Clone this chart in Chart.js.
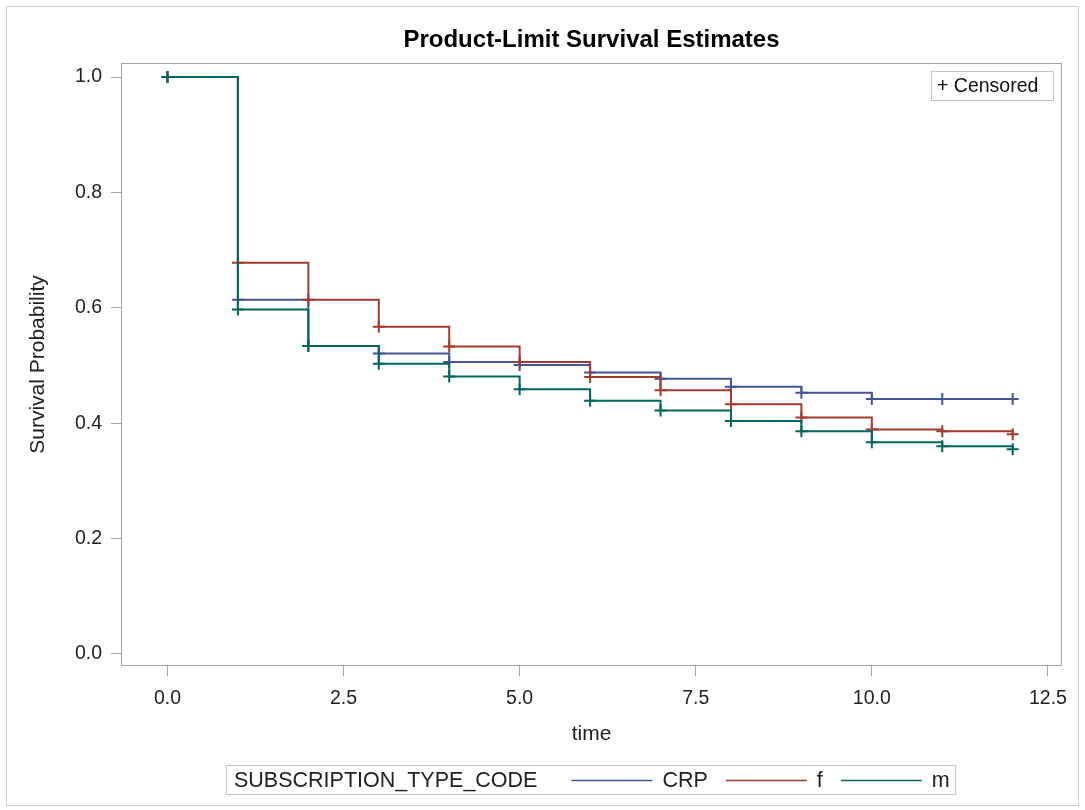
<!DOCTYPE html>
<html>
<head>
<meta charset="utf-8">
<script src="https://cdn.jsdelivr.net/npm/chart.js@4.4.1/dist/chart.umd.min.js"></script>
<style>
  html, body { margin: 0; padding: 0; background: #fff; }
  canvas { display: block; }
</style>
</head>
<body>
<canvas id="kmChart" width="1085" height="810"></canvas>
<script>
const times = [0, 1, 2, 3, 4, 5, 6, 7, 8, 9, 10, 11, 12];
const crp = [1.0, 0.614, 0.534, 0.521, 0.506, 0.501, 0.488, 0.477, 0.463, 0.453, 0.442, 0.442, 0.442];
const fem = [1.0, 0.678, 0.614, 0.567, 0.533, 0.506, 0.480, 0.457, 0.433, 0.410, 0.389, 0.386, 0.381];
const male = [1.0, 0.597, 0.534, 0.503, 0.481, 0.459, 0.439, 0.422, 0.404, 0.386, 0.367, 0.360, 0.355];
const xTicks = [0, 2.5, 5, 7.5, 10, 12.5];
const yTicks = [0, 0.2, 0.4, 0.6, 0.8, 1.0];
const groupLabels = ['CRP', 'f', 'm'];
const groupColors = ['#445694', '#A23A2E', '#01665E'];

const FONT = "'Liberation Sans', Arial, sans-serif";
Chart.defaults.font.family = FONT;

const series = [crp, fem, male];

const makeSet = (i) => ({
    label: groupLabels[i],
    data: times.map((t, k) => ({ x: t, y: series[i][k] })),
    borderColor: groupColors[i],
    backgroundColor: groupColors[i],
    borderWidth: 2,
    stepped: 'before',
    fill: false,
    pointStyle: 'cross',
    pointRadius: 6,
    pointBorderWidth: 2,
    pointBorderColor: groupColors[i],
    order: 3 - i
});

// frame, title, censored box and the group legend
const decorations = {
    id: 'decorations',
    beforeDraw(chart) {
        const ctx = chart.ctx;
        ctx.save();
        ctx.fillStyle = '#fff';
        ctx.fillRect(0, 0, chart.width, chart.height);
        ctx.strokeStyle = '#cfcfcf';
        ctx.lineWidth = 1;
        ctx.strokeRect(6.5, 6.5, 1072, 799);
        ctx.restore();
    },
    beforeDatasetsDraw(chart) {
        const ctx = chart.ctx;
        const ca = chart.chartArea;
        ctx.save();
        ctx.strokeStyle = '#a6a6a6';
        ctx.lineWidth = 1;
        ctx.strokeRect(ca.left + 0.5, ca.top + 0.5, ca.right - ca.left - 1, ca.bottom - ca.top - 1);
        ctx.restore();
    },
    afterDraw(chart) {
        const ctx = chart.ctx;
        const ca = chart.chartArea;
        ctx.save();

        ctx.fillStyle = '#000';
        ctx.font = 'bold 24px ' + FONT;
        ctx.textAlign = 'center';
        ctx.textBaseline = 'middle';
        ctx.fillText('Product-Limit Survival Estimates', (ca.left + ca.right) / 2, 40);

        // censored box
        ctx.strokeStyle = '#c4c4c4';
        ctx.lineWidth = 1;
        ctx.strokeRect(931.5, 71.5, 122, 29);
        ctx.fillStyle = '#111';
        ctx.font = '19.5px ' + FONT;
        ctx.textAlign = 'left';
        ctx.fillText('+ Censored', 937, 87);

        // legend
        ctx.strokeRect(226.5, 765.5, 729, 29);
        ctx.font = '21.5px ' + FONT;
        ctx.fillStyle = '#222';
        const ly = 781;
        ctx.fillText('SUBSCRIPTION_TYPE_CODE', 234, ly);
        let x = 234 + ctx.measureText('SUBSCRIPTION_TYPE_CODE').width + 34;
        chart.data.datasets.forEach(ds => {
            ctx.strokeStyle = ds.borderColor;
            ctx.lineWidth = 1.6;
            ctx.beginPath();
            ctx.moveTo(x, ly - 0.5);
            ctx.lineTo(x + 81, ly - 0.5);
            ctx.stroke();
            x += 81 + 10;
            ctx.fillText(ds.label, x, ly);
            x += ctx.measureText(ds.label).width + 18;
        });
        ctx.restore();
    }
};

const ctx = document.getElementById('kmChart').getContext('2d');
const kmChart = new Chart(ctx, {
    type: 'line',
    data: {
        datasets: [makeSet(0), makeSet(1), makeSet(2)]
    },
    options: {
        responsive: false,
        animation: false,
        devicePixelRatio: 1,
        layout: { padding: { left: 0, top: 63, right: 23, bottom: 60 } },
        plugins: {
            legend: { display: false },
            tooltip: { enabled: false },
            title: { display: false }
        },
        scales: {
            x: {
                type: 'linear',
                min: -0.66,
                max: 12.70,
                afterBuildTicks: s => { s.ticks = xTicks.map(v => ({ value: v })); },
                afterFit: s => { s.height = 84; },
                grid: { drawOnChartArea: false, drawTicks: true, tickLength: 10, color: '#a6a6a6' },
                border: { display: false },
                ticks: {
                    padding: 11,
                    color: '#222',
                    font: { size: 19.5 },
                    maxRotation: 0,
                    callback: v => v.toFixed(1)
                },
                title: {
                    display: true,
                    text: 'time',
                    color: '#222',
                    font: { size: 21 },
                    padding: { top: 0, bottom: 3 }
                }
            },
            y: {
                type: 'linear',
                min: -0.0208,
                max: 1.0243,
                afterBuildTicks: s => { s.ticks = yTicks.map(v => ({ value: v })); },
                afterFit: s => { s.width = 121; },
                grid: { drawOnChartArea: false, drawTicks: true, tickLength: 10, color: '#a6a6a6' },
                border: { display: false },
                ticks: {
                    padding: 9,
                    color: '#222',
                    font: { size: 19.5 },
                    callback: v => v.toFixed(1)
                },
                title: {
                    display: true,
                    text: 'Survival Probability',
                    color: '#222',
                    font: { size: 21 },
                    padding: { top: 26, bottom: 0 }
                }
            }
        }
    },
    plugins: [decorations]
});
</script>
</body>
</html>
